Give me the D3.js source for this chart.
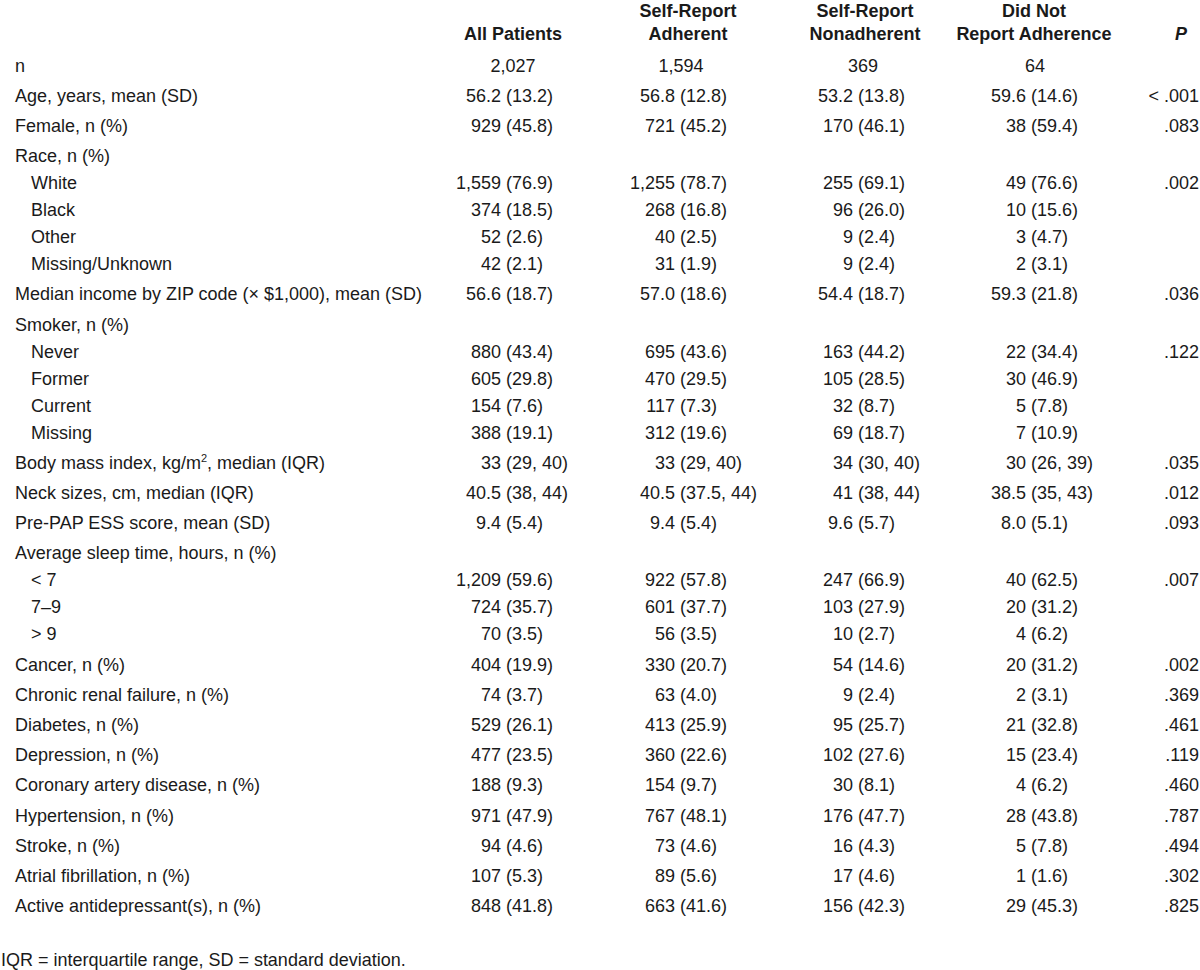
<!DOCTYPE html>
<html>
<head>
<meta charset="utf-8">
<script src="https://cdn.jsdelivr.net/npm/d3@7"></script>
<style>
  html, body { margin: 0; padding: 0; background: #fff; }
  svg text { font-family: "Liberation Sans", Arial, Helvetica, sans-serif; fill: #1a1a1a; }
</style>
</head>
<body>
<svg id="chart" width="1200" height="970"></svg>
<script>
// ---------- DATA ----------
const columnHeaders = [
  ["", "All Patients"],
  ["Self-Report", "Adherent"],
  ["Self-Report", "Nonadherent"],
  ["Did Not", "Report Adherence"],
  ["", "P"]
];

const rowLabels = [
  "n",
  "Age, years, mean (SD)",
  "Female, n (%)",
  "Race, n (%)",
  "White",
  "Black",
  "Other",
  "Missing/Unknown",
  "Median income by ZIP code (\u00d7 $1,000), mean (SD)",
  "Smoker, n (%)",
  "Never",
  "Former",
  "Current",
  "Missing",
  "Body mass index, kg/m\u00b2, median (IQR)",
  "Neck sizes, cm, median (IQR)",
  "Pre-PAP ESS score, mean (SD)",
  "Average sleep time, hours, n (%)",
  "< 7",
  "7\u20139",
  "> 9",
  "Cancer, n (%)",
  "Chronic renal failure, n (%)",
  "Diabetes, n (%)",
  "Depression, n (%)",
  "Coronary artery disease, n (%)",
  "Hypertension, n (%)",
  "Stroke, n (%)",
  "Atrial fibrillation, n (%)",
  "Active antidepressant(s), n (%)"
];

// 1 = indented sub-row
const rowIndent = [0,0,0,0,1,1,1,1,0,0,1,1,1,1,0,0,0,0,1,1,1,0,0,0,0,0,0,0,0,0];

const allPatients = ["2,027","56.2 (13.2)","929 (45.8)","","1,559 (76.9)","374 (18.5)","52 (2.6)","42 (2.1)","56.6 (18.7)","","880 (43.4)","605 (29.8)","154 (7.6)","388 (19.1)","33 (29, 40)","40.5 (38, 44)","9.4 (5.4)","","1,209 (59.6)","724 (35.7)","70 (3.5)","404 (19.9)","74 (3.7)","529 (26.1)","477 (23.5)","188 (9.3)","971 (47.9)","94 (4.6)","107 (5.3)","848 (41.8)"];

const adherent = ["1,594","56.8 (12.8)","721 (45.2)","","1,255 (78.7)","268 (16.8)","40 (2.5)","31 (1.9)","57.0 (18.6)","","695 (43.6)","470 (29.5)","117 (7.3)","312 (19.6)","33 (29, 40)","40.5 (37.5, 44)","9.4 (5.4)","","922 (57.8)","601 (37.7)","56 (3.5)","330 (20.7)","63 (4.0)","413 (25.9)","360 (22.6)","154 (9.7)","767 (48.1)","73 (4.6)","89 (5.6)","663 (41.6)"];

const nonadherent = ["369","53.2 (13.8)","170 (46.1)","","255 (69.1)","96 (26.0)","9 (2.4)","9 (2.4)","54.4 (18.7)","","163 (44.2)","105 (28.5)","32 (8.7)","69 (18.7)","34 (30, 40)","41 (38, 44)","9.6 (5.7)","","247 (66.9)","103 (27.9)","10 (2.7)","54 (14.6)","9 (2.4)","95 (25.7)","102 (27.6)","30 (8.1)","176 (47.7)","16 (4.3)","17 (4.6)","156 (42.3)"];

const didNotReport = ["64","59.6 (14.6)","38 (59.4)","","49 (76.6)","10 (15.6)","3 (4.7)","2 (3.1)","59.3 (21.8)","","22 (34.4)","30 (46.9)","5 (7.8)","7 (10.9)","30 (26, 39)","38.5 (35, 43)","8.0 (5.1)","","40 (62.5)","20 (31.2)","4 (6.2)","20 (31.2)","2 (3.1)","21 (32.8)","15 (23.4)","4 (6.2)","28 (43.8)","5 (7.8)","1 (1.6)","29 (45.3)"];

const pValues = ["","< .001",".083","",".002","","","",".036","",".122","","","",".035",".012",".093","",".007","","",".002",".369",".461",".119",".460",".787",".494",".302",".825"];

const footnote = "IQR = interquartile range, SD = standard deviation.";

// ---------- LAYOUT ----------
const svg = d3.select("#chart");
const FS = 18;
const STRETCH = 1.06; // reference type is slightly taller than Liberation Sans

// cumulative row units: main rows advance more than indented sub-rows
const MAIN_GAP = 30.2 / 27, SUB_GAP = 1;
const rowUnits = [];
rowLabels.forEach((d, i) => {
  if (i === 0) rowUnits.push(0);
  else rowUnits.push(rowUnits[i - 1] + (rowIndent[i] ? SUB_GAP : MAIN_GAP));
});
const y = d3.scaleLinear().domain([0, 1]).range([65, 92]);

const labelX = d3.scaleOrdinal().domain([0, 1]).range([15, 31]);

const valueCols = [allPatients, adherent, nonadherent, didNotReport];
const parenX = d3.scaleOrdinal().domain([0,1,2,3]).range([506, 680, 858, 1031]);
const headerX = d3.scaleOrdinal().domain([0,1,2,3,4]).range([513, 688, 865, 1034, 1181]);
const nX = d3.scaleOrdinal().domain([0,1,2,3]).range([513, 681, 863, 1035]);
const pRight = 1199;

// ---------- HEADERS ----------
const hdr = svg.append("g").attr("class", "headers");
columnHeaders.forEach((lines, ci) => {
  lines.forEach((t, li) => {
    if (!t) return;
    hdr.append("text")
      .attr("x", headerX(ci))
      .attr("y", li === 0 ? 10 : 33)
      .attr("dy", "0.35em")
      .attr("text-anchor", "middle")
      .attr("font-size", FS)
      .attr("font-weight", "bold")
      .attr("font-style", ci === 4 ? "italic" : "normal")
      .text(t);
  });
});

// ---------- ROW LABELS ----------
const rows = svg.append("g").attr("class", "rows");
rowLabels.forEach((lab, i) => {
  const t = rows.append("text")
    .attr("x", labelX(rowIndent[i]))
    .attr("y", y(rowUnits[i]))
    .attr("dy", "0.35em")
    .attr("font-size", FS);
  if (lab.includes("m\u00b2")) {
    const parts = lab.split("\u00b2");
    t.append("tspan").text(parts[0]);
    t.append("tspan").attr("font-size", 11).attr("dy", "-0.55em").text("2");
    t.append("tspan").attr("dy", "0.35em").text(parts[1]);
  } else {
    t.text(lab);
  }
});

// ---------- VALUES ----------
valueCols.forEach((col, ci) => {
  const g = svg.append("g").attr("class", "col" + ci);
  col.forEach((v, i) => {
    if (!v) return;
    const yy = y(rowUnits[i]);
    const k = v.indexOf(" (");
    if (k < 0) {
      g.append("text")
        .attr("x", nX(ci)).attr("y", yy).attr("dy", "0.35em")
        .attr("text-anchor", "middle").attr("font-size", FS).text(v);
    } else {
      g.append("text")
        .attr("x", parenX(ci) - 5).attr("y", yy).attr("dy", "0.35em")
        .attr("text-anchor", "end").attr("font-size", FS).text(v.slice(0, k));
      g.append("text")
        .attr("x", parenX(ci)).attr("y", yy).attr("dy", "0.35em")
        .attr("text-anchor", "start").attr("font-size", FS).text(v.slice(k + 1));
    }
  });
});

// ---------- P VALUES ----------
const pg = svg.append("g").attr("class", "pvals");
pValues.forEach((p, i) => {
  if (!p) return;
  pg.append("text")
    .attr("x", pRight).attr("y", y(rowUnits[i])).attr("dy", "0.35em")
    .attr("text-anchor", "end").attr("font-size", FS).text(p);
});

// ---------- FOOTNOTE ----------
svg.append("text")
  .attr("x", 1).attr("y", 959).attr("dy", "0.35em")
  .attr("font-size", FS).text(footnote);

// slight vertical stretch of every text about its own row centre
svg.selectAll("text").each(function() {
  const yy = +this.getAttribute("y");
  this.setAttribute("transform", `translate(0,${yy}) scale(1,${STRETCH}) translate(0,${-yy})`);
});
</script>
</body>
</html>
